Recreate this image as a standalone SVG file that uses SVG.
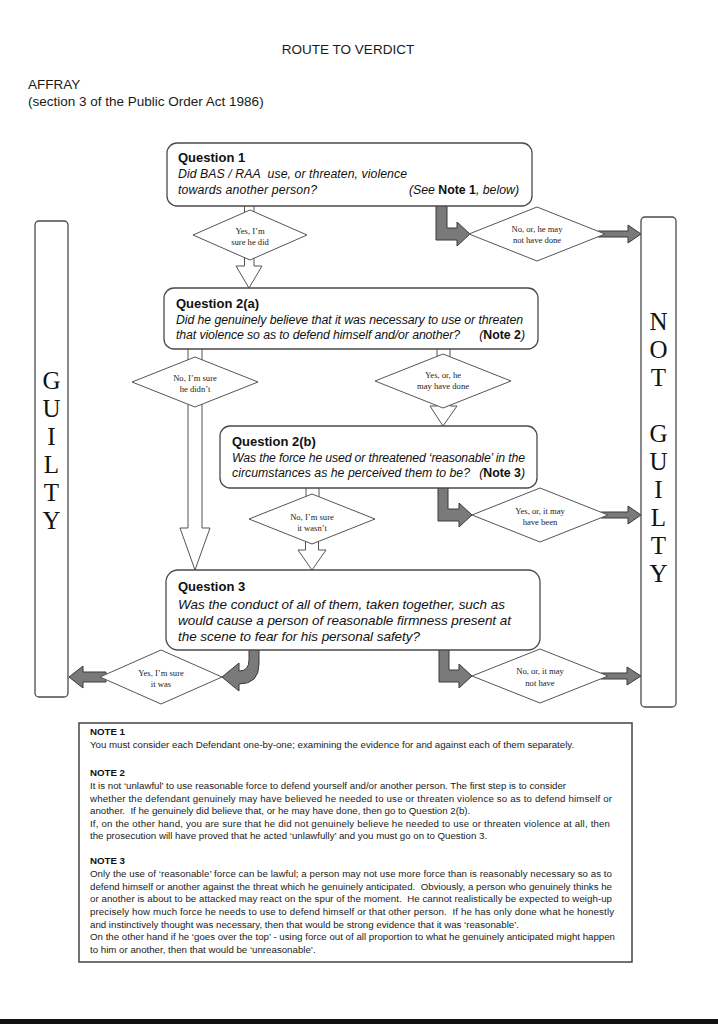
<svg xmlns="http://www.w3.org/2000/svg" width="718" height="1024" viewBox="0 0 718 1024">
<style>
.box{fill:#fff;stroke:#4a4a4a;stroke-width:1.3}
.dia{fill:#fff;stroke:#555;stroke-width:1}
.hol{fill:#fff;stroke:#555;stroke-width:1}
.dark{fill:#7a7a7a;stroke:#3a3a3a;stroke-width:1}
.hd{font-family:"Liberation Sans",Arial,sans-serif;font-size:13.5px;fill:#1a1a1a}
.qt{font-family:"Liberation Sans",Arial,sans-serif;font-weight:bold;font-size:13px;fill:#111}
.qi{font-family:"Liberation Sans",Arial,sans-serif;font-style:italic;font-size:12.3px;fill:#111}
.q3{font-family:"Liberation Sans",Arial,sans-serif;font-style:italic;font-size:13.5px;fill:#111}
.bn{font-weight:bold;font-style:normal}
.dl{font-family:"Liberation Serif","Times New Roman",serif;font-size:8.6px;fill:#222;text-anchor:middle}
.big{font-family:"Liberation Serif","Times New Roman",serif;font-size:25px;fill:#111;text-anchor:middle}
.nt{font-family:"Liberation Sans",Arial,sans-serif;font-size:9.7px;fill:#1a1a1a}
.nh{font-family:"Liberation Sans",Arial,sans-serif;font-size:9.7px;font-weight:bold;fill:#111}
</style>
<rect width="718" height="1024" fill="#fff"/>
<g id="header">
<text class="hd" x="348" y="54" text-anchor="middle" font-size="14">ROUTE TO VERDICT</text>
<text class="hd" x="28" y="89">AFFRAY</text>
<text class="hd" x="28" y="106">(section 3 of the Public Order Act 1986)</text>
</g>
<g id="connectors">
<rect class="hol" x="244.5" y="200" width="9.5" height="18"/>
<polygon class="hol" points="244.5,250 244.5,266 236,266 249,288 262,266 254,266 254,250"/>
<rect class="hol" x="188" y="345" width="14" height="22"/>
<polygon class="hol" points="188,400 188,528 180,528 195,570 210,528 202,528 202,400"/>
<rect class="hol" x="437" y="345" width="13" height="20"/>
<polygon class="hol" points="437,400 437,406 430,406 443,426 457,406 450,406 450,400"/>
<rect class="hol" x="306" y="484" width="13" height="16"/>
<polygon class="hol" points="305.5,538 305.5,550 298,550 312,570 326,550 318.5,550 318.5,538"/>
<path class="dark" d="M436,200 H447 V228 H457 V222 L470,234 L457,246 V240 H436 Z"/>
<path class="dark" d="M598,231 H628 V225 L641,234 L628,243 V237 H598 Z"/>
<path class="dark" d="M438,484 H448 V509 H459 V503 L472,515 L459,527 V521 H438 Z"/>
<path class="dark" d="M601,512 H628 V506 L641,515 L628,524 V518 H601 Z"/>
<path class="dark" d="M439,646 H449 V670 H459 V664 L472,676 L459,688 V682 H439 Z"/>
<path class="dark" d="M601,673 H627 V667 L641,676 L627,685 V679 H601 Z"/>
<path class="dark" d="M249,646 H259 V664 Q259,684 239,684 V691 L222,677 L239,663 V671 Q249,671 249,660 Z"/>
<path class="dark" d="M106,672 H83 V666 L69,677 L83,688 V682 H106 Z"/>
</g>
<g id="guilty">
<rect class="box" x="35" y="221" width="33" height="476" rx="4"/>
<text class="big" x="51.5" y="389">G</text>
<text class="big" x="51.5" y="417">U</text>
<text class="big" x="51.5" y="445">I</text>
<text class="big" x="51.5" y="473">L</text>
<text class="big" x="51.5" y="501">T</text>
<text class="big" x="51.5" y="529">Y</text>
</g>
<g id="not-guilty">
<rect class="box" x="641" y="217" width="35" height="490" rx="4"/>
<text class="big" x="658.5" y="330">N</text>
<text class="big" x="658.5" y="358">O</text>
<text class="big" x="658.5" y="386">T</text>
<text class="big" x="658.5" y="442">G</text>
<text class="big" x="658.5" y="470">U</text>
<text class="big" x="658.5" y="498">I</text>
<text class="big" x="658.5" y="526">L</text>
<text class="big" x="658.5" y="554">T</text>
<text class="big" x="658.5" y="582">Y</text>
</g>
<g id="q1">
<rect class="box" x="167" y="143" width="365" height="63" rx="10"/>
<text class="qt" x="178" y="162">Question 1</text>
<text class="qi" x="178" y="178" textLength="229">Did BAS / RAA&#160; use, or threaten, violence</text>
<text class="qi" x="178" y="194" textLength="139">towards another person?</text>
<text class="qi" x="519" y="194" text-anchor="end">(See <tspan class="bn">Note 1</tspan>, below)</text>
</g>
<g id="d-yes-did">
<polygon class="dia" points="193,235 250,210 307,235 250,260"/>
<text class="dl" x="250" y="234">Yes, I’m</text>
<text class="dl" x="250" y="245">sure he did</text>
</g>
<g id="d-no-may-not">
<polygon class="dia" points="469,234 537,207 605,234 537,261"/>
<text class="dl" x="537" y="232">No, or, he may</text>
<text class="dl" x="537" y="243">not have done</text>
</g>
<g id="q2a">
<rect class="box" x="164" y="288" width="374" height="61" rx="10"/>
<text class="qt" x="176" y="308">Question 2(a)</text>
<text class="qi" x="176" y="324" textLength="347">Did he genuinely believe that it was necessary to use or threaten</text>
<text class="qi" x="176" y="339" textLength="284">that violence so as to defend himself and/or another?</text>
<text class="qi" x="525" y="339" text-anchor="end">(<tspan class="bn">Note 2</tspan>)</text>
</g>
<g id="d-no-didnt">
<polygon class="dia" points="132,382 195,357 258,382 195,407"/>
<text class="dl" x="195" y="381">No, I’m sure</text>
<text class="dl" x="195" y="392">he didn’t</text>
</g>
<g id="d-yes-may">
<polygon class="dia" points="375,381 443,354 511,381 443,408"/>
<text class="dl" x="443" y="378">Yes, or, he</text>
<text class="dl" x="443" y="389">may have done</text>
</g>
<g id="q2b">
<rect class="box" x="220" y="426" width="317" height="62" rx="10"/>
<text class="qt" x="232" y="446">Question 2(b)</text>
<text class="qi" x="232" y="462" textLength="293">Was the force he used or threatened ‘reasonable’ in the</text>
<text class="qi" x="232" y="477" textLength="238">circumstances as he perceived them to be?</text>
<text class="qi" x="525" y="477" text-anchor="end">(<tspan class="bn">Note 3</tspan>)</text>
</g>
<g id="d-no-wasnt">
<polygon class="dia" points="249,519 312,494 375,519 312,544"/>
<text class="dl" x="312" y="520">No, I’m sure</text>
<text class="dl" x="312" y="531">it wasn’t</text>
</g>
<g id="d-yes-may-been">
<polygon class="dia" points="472,515 540,488 608,515 540,542"/>
<text class="dl" x="540" y="514">Yes, or, it may</text>
<text class="dl" x="540" y="525">have been</text>
</g>
<g id="q3">
<rect class="box" x="166" y="570" width="374" height="80" rx="12"/>
<text class="qt" x="178" y="591">Question 3</text>
<text class="q3" x="178" y="609" textLength="327">Was the conduct of all of them, taken together, such as</text>
<text class="q3" x="178" y="625" textLength="333">would cause a person of reasonable firmness present at</text>
<text class="q3" x="178" y="641" textLength="242">the scene to fear for his personal safety?</text>
</g>
<g id="d-yes-was">
<polygon class="dia" points="100,677 161,650 222,677 161,704"/>
<text class="dl" x="161" y="676">Yes, I’m sure</text>
<text class="dl" x="161" y="687">it was</text>
</g>
<g id="d-no-may-not-have">
<polygon class="dia" points="472,676 540,649 608,676 540,703"/>
<text class="dl" x="540" y="674">No, or, it may</text>
<text class="dl" x="540" y="686">not have</text>
</g>
<g id="notes">
<rect x="79" y="723" width="553" height="239" fill="#fff" stroke="#444" stroke-width="1.5"/>
<text class="nh" x="90" y="735">NOTE 1</text>
<text class="nt" x="90" y="748">You must consider each Defendant one-by-one; examining the evidence for and against each of them separately.</text>
<text class="nh" x="90" y="776">NOTE 2</text>
<text class="nt" x="90" y="789">It is not ‘unlawful’ to use reasonable force to defend yourself and/or another person. The first step is to consider</text>
<text class="nt" x="90" y="802" textLength="522">whether the defendant genuinely may have believed he needed to use or threaten violence so as to defend himself or</text>
<text class="nt" x="90" y="814">another.&#160; If he genuinely did believe that, or he may have done, then go to Question 2(b).</text>
<text class="nt" x="90" y="827" textLength="520">If, on the other hand, you are sure that he did not genuinely believe he needed to use or threaten violence at all, then</text>
<text class="nt" x="90" y="839">the prosecution will have proved that he acted ‘unlawfully’ and you must go on to Question 3.</text>
<text class="nh" x="90" y="864">NOTE 3</text>
<text class="nt" x="90" y="877" textLength="522">Only the use of ‘reasonable’ force can be lawful; a person may not use more force than is reasonably necessary so as to</text>
<text class="nt" x="90" y="890" textLength="522">defend himself or another against the threat which he genuinely anticipated.&#160; Obviously, a person who genuinely thinks he</text>
<text class="nt" x="90" y="902" textLength="522">or another is about to be attacked may react on the spur of the moment.&#160; He cannot realistically be expected to weigh-up</text>
<text class="nt" x="90" y="915" textLength="524">precisely how much force he needs to use to defend himself or that other person.&#160; If he has only done what he honestly</text>
<text class="nt" x="90" y="928">and instinctively thought was necessary, then that would be strong evidence that it was ‘reasonable’.</text>
<text class="nt" x="90" y="940" textLength="525">On the other hand if he ‘goes over the top’ - using force out of all proportion to what he genuinely anticipated might happen</text>
<text class="nt" x="90" y="953">to him or another, then that would be ‘unreasonable’.</text>
</g>
<rect x="0" y="1019" width="718" height="5" fill="#111"/>
</svg>
